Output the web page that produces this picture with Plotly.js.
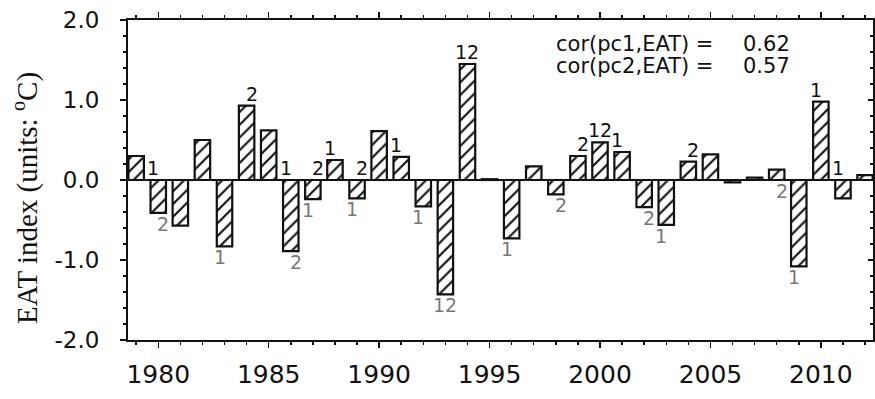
<!DOCTYPE html>
<html>
<head>
<meta charset="utf-8">
<script src="https://cdn.plot.ly/plotly-3.0.1.min.js"></script>
<style>html,body{margin:0;padding:0;background:#fff;}#chart{width:875px;height:399px;}</style>
</head>
<body>
<div id="chart"></div>
<script>
// ---- data ----
var years = [1979,1980,1981,1982,1983,1984,1985,1986,1987,1988,1989,1990,1991,1992,1993,1994,1995,1996,1997,1998,1999,2000,2001,2002,2003,2004,2005,2006,2007,2008,2009,2010,2011,2012];
var eatIndex = [0.30,-0.41,-0.57,0.50,-0.83,0.93,0.62,-0.89,-0.24,0.25,-0.23,0.61,0.29,-0.33,-1.43,1.45,0.01,-0.73,0.17,-0.18,0.30,0.47,0.35,-0.34,-0.56,0.23,0.32,-0.03,0.03,0.13,-1.08,0.98,-0.23,0.06];

var labelYears = [1980,1980,1983,1984,1986,1986,1987,1987,1988,1989,1989,1991,1992,1993,1994,1996,1998,1999,2000,2001,2002,2003,2004,2008,2009,2010,2011];
var labelTexts = ['1','2','1','2','1','2','2','1','1','2','1','1','1','12','12','1','2','2','12','1','2','1','2','2','1','1','1'];
var labelSides = ['top','bottom','bottom','top','top','bottom','top','bottom','top','top','bottom','top','bottom','bottom','top','bottom','bottom','top','top','top','bottom','bottom','top','bottom','bottom','top','top'];

var xTickVals = [1980,1985,1990,1995,2000,2005,2010];
var xTickText = ['1980','1985','1990','1995','2000','2005','2010'];
var yTickVals = [-2,-1,0,1,2];
var yTickText = ['-2.0','-1.0','0.0','1.0','2.0'];

var corrLabels = ['cor(pc1,EAT) =','cor(pc2,EAT) ='];
var corrValues = ['0.62','0.57'];
var yTitle = 'EAT index (units: <sup>o</sup>C)';

// ---- layout helpers (pixel -> paper) ----
var W = 875, H = 399, ML = 128, MR = 2, MT = 20, MB = 59;
var PW = W - ML - MR, PH = H - MT - MB;
function px(x){ return (x - ML) / PW; }
function py(y){ return (H - MB - y) / PH; }

var SANS = 'DejaVu Sans, Arial, sans-serif';

var traces = [{
  type: 'bar',
  x: years,
  y: eatIndex,
  width: 0.7,
  marker: {
    color: 'white',
    line: {color: '#111', width: 2.2},
    pattern: {shape: '/', size: 9, solidity: 0.24, fgcolor: '#111', bgcolor: 'white', fillmode: 'replace'}
  },
  hoverinfo: 'x+y'
},{
  type: 'scatter',
  x: [years[0]],
  y: [0],
  yaxis: 'y2',
  mode: 'none',
  hoverinfo: 'skip',
  showlegend: false
}];

var annotations = [];
for (var i = 0; i < labelYears.length; i++) {
  var idx = years.indexOf(labelYears[i]);
  var v = eatIndex[idx];
  var isTop = labelSides[i] === 'top';
  var t = labelTexts[i];
  annotations.push({
    x: labelYears[i], xref: 'x',
    y: isTop ? Math.max(v, 0) : Math.min(v, 0), yref: 'y',
    text: t, showarrow: false,
    xanchor: 'center', yanchor: isTop ? 'bottom' : 'top',
    xshift: t === '1' ? -5 : (t === '2' ? 5 : 0),
    yshift: isTop ? -1 : 2,
    font: {family: SANS, size: 19, color: isTop ? '#111' : '#777'}
  });
}
for (var j = 0; j < corrLabels.length; j++) {
  annotations.push({
    xref: 'paper', yref: 'paper', x: px(554), y: py(44 + 22 * j),
    xanchor: 'left', yanchor: 'middle', showarrow: false,
    text: corrLabels[j], font: {family: SANS, size: 21, color: '#111'}
  });
  annotations.push({
    xref: 'paper', yref: 'paper', x: px(741), y: py(44 + 22 * j),
    xanchor: 'left', yanchor: 'middle', showarrow: false,
    text: corrValues[j], font: {family: SANS, size: 21, color: '#111'}
  });
}
annotations.push({
  xref: 'paper', yref: 'paper', x: px(25), y: py(198),
  xanchor: 'center', yanchor: 'middle', showarrow: false, textangle: -90,
  text: yTitle, font: {family: 'Liberation Serif, Times New Roman, serif', size: 29, color: '#111'}
});

var layout = {
  width: W, height: H,
  margin: {l: ML, r: MR, t: MT, b: MB, pad: 0},
  paper_bgcolor: 'white', plot_bgcolor: 'white',
  showlegend: false,
  bargap: 0.3,
  xaxis: {
    range: [1978.63, 2012.36],
    tickmode: 'array', tickvals: xTickVals, ticktext: xTickText,
    ticks: 'outside', ticklen: 6, tickwidth: 1.5, tickcolor: '#111',
    showline: true, linewidth: 2, linecolor: '#111', mirror: 'ticks',
    showgrid: false, zeroline: false,
    tickfont: {family: SANS, size: 25, color: '#111'},
    ticklabelstandoff: 5,
    minor: {tickmode: 'linear', tick0: 1979, dtick: 1, ticks: 'outside', ticklen: 3, tickwidth: 1.5, tickcolor: '#111', showgrid: false}
  },
  yaxis: {
    range: [-2, 2],
    tickmode: 'array', tickvals: yTickVals, ticktext: yTickText,
    ticks: 'outside', ticklen: 6, tickwidth: 1.5, tickcolor: '#111',
    showline: true, linewidth: 2, linecolor: '#111', mirror: true,
    showgrid: false,
    zeroline: true, zerolinewidth: 2, zerolinecolor: '#111',
    tickfont: {family: SANS, size: 23, color: '#111'},
    ticklabelstandoff: 16,
    minor: {tickmode: 'linear', tick0: 0, dtick: 0.2, ticks: 'outside', ticklen: 3, tickwidth: 1.5, tickcolor: '#111', showgrid: false}
  },
  yaxis2: {
    overlaying: 'y', side: 'right', range: [-2, 2],
    tickmode: 'array', tickvals: yTickVals,
    ticks: 'inside', ticklen: 5, tickwidth: 1.5, tickcolor: '#111',
    showticklabels: false, showline: false, showgrid: false, zeroline: false,
    minor: {tickmode: 'linear', tick0: 0, dtick: 0.2, ticks: 'inside', ticklen: 3, tickwidth: 1.5, tickcolor: '#111', showgrid: false}
  },
  annotations: annotations
};

Plotly.newPlot('chart', traces, layout, {displayModeBar: false, staticPlot: true});
</script>
</body>
</html>
